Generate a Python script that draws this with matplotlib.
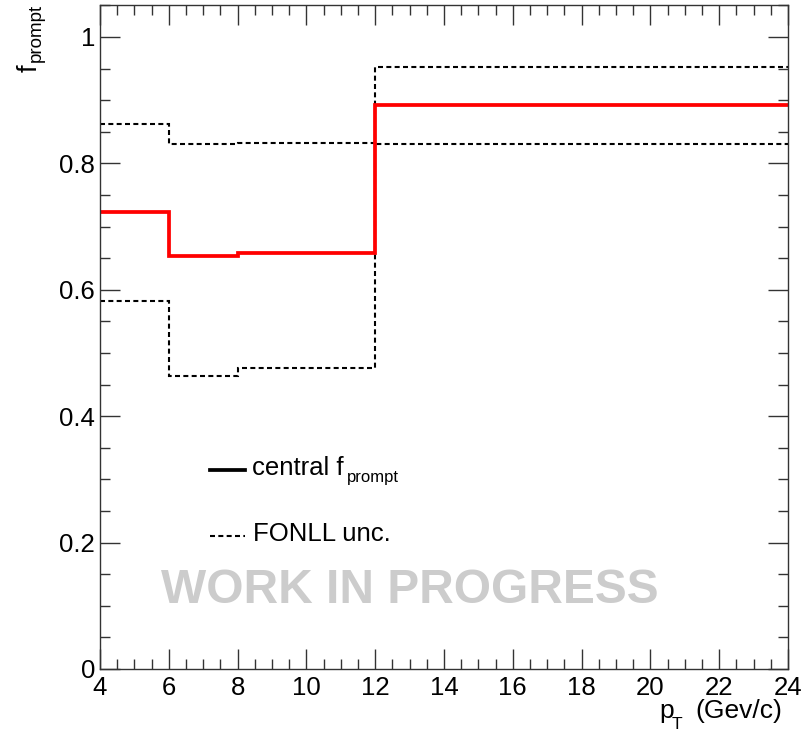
import matplotlib
matplotlib.use("Agg")
import matplotlib.pyplot as plt
from matplotlib.lines import Line2D
from matplotlib.ticker import MultipleLocator, FixedLocator

plt.rcParams["font.family"] = ["Liberation Sans", "DejaVu Sans"]

# pT bin edges (GeV/c) and prompt fractions per bin
pt_edges = [4, 6, 8, 12, 24]
f_central = [0.723, 0.653, 0.658, 0.892]
f_fonll_high = [0.862, 0.831, 0.832, 0.953]
f_fonll_low = [0.582, 0.463, 0.476, 0.830]

x_ticks = [4, 6, 8, 10, 12, 14, 16, 18, 20, 22, 24]
y_ticks = [0, 0.2, 0.4, 0.6, 0.8, 1.0]
y_tick_labels = ["0", "0.2", "0.4", "0.6", "0.8", "1"]

W, H = 808, 732
fig = plt.figure(figsize=(W / 100, H / 100), dpi=100)
L, R, T, B = 100, 788, 5, 669
ax = fig.add_axes([L / W, (H - B) / H, (R - L) / W, (B - T) / H])

dash = (0, (2.4, 1.6))
ax.stairs(f_fonll_high, pt_edges, baseline=None, color="black", lw=1.5, linestyle=dash)
ax.stairs(f_fonll_low, pt_edges, baseline=None, color="black", lw=1.5, linestyle=dash)
ax.stairs(f_central, pt_edges, baseline=None, color="#ff0000", lw=2.7)

ax.set_xlim(4, 24)
ax.set_ylim(0, 1.0506)

ax.xaxis.set_major_locator(FixedLocator(x_ticks))
ax.set_xticklabels([str(v) for v in x_ticks])
ax.xaxis.set_minor_locator(MultipleLocator(0.5))
ax.yaxis.set_major_locator(FixedLocator(y_ticks))
ax.set_yticklabels(y_tick_labels)
ax.yaxis.set_minor_locator(MultipleLocator(0.05))

ax.tick_params(which="both", direction="in", top=True, right=True, color="#333333", width=1.0)
ax.tick_params(which="major", length=14.5, labelsize=18.5)
ax.tick_params(which="minor", length=7.2)
ax.tick_params(axis="x", which="major", pad=5)
ax.tick_params(axis="y", which="major", pad=3.5)
for s in ax.spines.values():
    s.set_linewidth(1.0)
    s.set_color("#333333")


def px(x, y):
    return x / W, (H - y) / H


# x-axis title: p with a dropped subscript T
fig.text(*px(659, 718), "p", ha="left", va="baseline", fontsize=19)
fig.text(*px(672, 729), "T", ha="left", va="baseline", fontsize=12.5)
fig.text(*px(695, 718), "(Gev/c)", ha="left", va="baseline", fontsize=19)

# y-axis title: f with subscript "prompt", reading upward
fig.text(*px(37, 72), "f", rotation=90, rotation_mode="anchor",
         ha="left", va="baseline", fontsize=19.5)
fig.text(*px(41, 62), "prompt", rotation=90, rotation_mode="anchor",
         ha="left", va="baseline", fontsize=13.5)

# legend
fig.add_artist(Line2D([210 / W, 245 / W], [(H - 470) / H] * 2, color="black", lw=2.7))
fig.text(*px(252, 475), "central f", ha="left", va="baseline", fontsize=18.5)
fig.text(*px(347, 482), "prompt", ha="left", va="baseline", fontsize=12)
fig.add_artist(Line2D([210 / W, 245 / W], [(H - 536) / H] * 2, color="black", lw=1.5, linestyle=dash))
fig.text(*px(253, 541), "FONLL unc.", ha="left", va="baseline", fontsize=18.5)

# watermark
fig.text(*px(410, 603), "WORK IN PROGRESS", ha="center", va="baseline",
         fontsize=34.5, fontweight="bold", color="#cccccc")

fig.savefig("out.png", dpi=100)
